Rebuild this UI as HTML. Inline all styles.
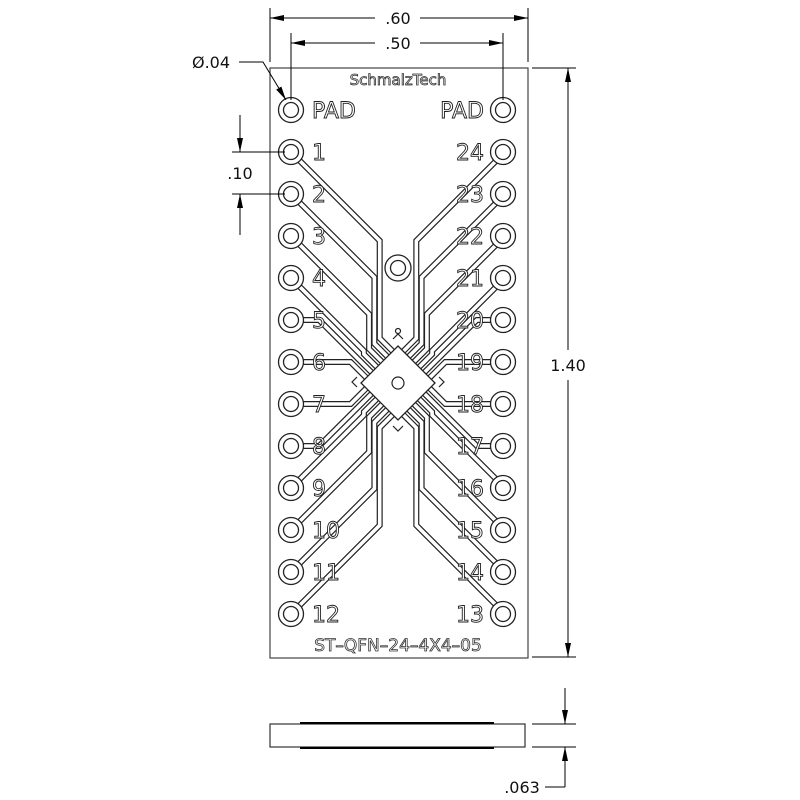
<!DOCTYPE html>
<html><head><meta charset="utf-8"><style>
html,body{margin:0;padding:0;background:#fff;width:800px;height:800px;overflow:hidden}
svg{display:block}
text{font-family:"DejaVu Sans","Liberation Sans",sans-serif}
</style></head><body>
<svg id="s" width="800" height="800" viewBox="0 0 800 800" xmlns="http://www.w3.org/2000/svg">
<defs>
<marker id="b" viewBox="0 0 14 8" refX="14" refY="4" markerWidth="14" markerHeight="8" markerUnits="userSpaceOnUse" orient="auto-start-reverse"><path d="M0,1 L14,4 L0,7 z" fill="#000"/></marker>
</defs>
<rect x="270" y="68" width="258" height="590" fill="#fff" stroke="#444" stroke-width="1.2"/>
<g id="tr" fill="none" stroke-linejoin="miter"></g>
<g id="pads"></g>
<g id="lbl" font-size="22" fill="#fff" stroke="#222" stroke-width="0.9"></g>
<path d="M398,346 L435,383 L398,420 L361,383 Z" fill="#fff" stroke="#222" stroke-width="1.3"/>
<circle cx="398" cy="383" r="6" fill="#fff" stroke="#222" stroke-width="1.2"/>
<circle cx="398" cy="268" r="13" fill="#fff" stroke="#222" stroke-width="1.3"/>
<circle cx="398" cy="268" r="7.5" fill="#fff" stroke="#222" stroke-width="1.3"/>
<g fill="none" stroke="#222" stroke-width="1.2">
<circle cx="398" cy="331" r="2.5"/><path d="M393,339 L398,334 L403,339"/>
<path d="M357,377 L352,382 L357,387"/><path d="M439,377 L444,382 L439,387"/>
<path d="M393,426 L398,431 L403,426"/>
</g>
<text x="398" y="85" font-size="15" text-anchor="middle" fill="#fff" stroke="#333" stroke-width="0.8">SchmalzTech</text>
<text x="398" y="651" font-size="17" text-anchor="middle" fill="#fff" stroke="#333" stroke-width="0.8">ST–QFN–24–4X4–05</text>
<g stroke="#000" stroke-width="1" fill="none">
<line x1="270" y1="8" x2="270" y2="62"/><line x1="528" y1="8" x2="528" y2="62"/>
<line x1="270" y1="18" x2="375" y2="18" marker-start="url(#b)"/><line x1="420" y1="18" x2="528" y2="18" marker-end="url(#b)"/>
<line x1="291" y1="33" x2="291" y2="100"/><line x1="503" y1="33" x2="503" y2="100"/>
<line x1="291" y1="43" x2="375" y2="43" marker-start="url(#b)"/><line x1="420" y1="43" x2="503" y2="43" marker-end="url(#b)"/>
<line x1="532" y1="68" x2="576" y2="68"/><line x1="532" y1="657" x2="576" y2="657"/>
<line x1="568" y1="68" x2="568" y2="350" marker-start="url(#b)"/><line x1="568" y1="380" x2="568" y2="657" marker-end="url(#b)"/>
<line x1="232" y1="152" x2="285" y2="152"/><line x1="232" y1="194" x2="285" y2="194"/>
<line x1="240" y1="115" x2="240" y2="152" marker-end="url(#b)"/><line x1="240" y1="235" x2="240" y2="194" marker-end="url(#b)"/>
<polyline points="239,62 263,62 286,100" marker-end="url(#b)"/>
<line x1="532" y1="724" x2="576" y2="724"/><line x1="532" y1="747" x2="576" y2="747"/>
<line x1="565" y1="688" x2="565" y2="724" marker-end="url(#b)"/><line x1="565" y1="787" x2="565" y2="747" marker-end="url(#b)"/>
<line x1="545" y1="787" x2="565" y2="787"/>
</g>
<g font-size="16" fill="#111">
<text x="398" y="24" text-anchor="middle">.60</text>
<text x="398" y="49" text-anchor="middle">.50</text>
<text x="568" y="371" text-anchor="middle">1.40</text>
<text x="240" y="179" text-anchor="middle">.10</text>
<text x="211" y="68" text-anchor="middle">Ø.04</text>
<text x="522" y="793" text-anchor="middle">.063</text>
</g>
<rect x="270" y="724" width="255" height="23" fill="#fff" stroke="#333" stroke-width="1.2"/>
<line x1="300" y1="723" x2="494" y2="723" stroke="#000" stroke-width="2"/>
<line x1="300" y1="748" x2="494" y2="748" stroke="#000" stroke-width="2"/>
</svg>
<script>
const NS="http://www.w3.org/2000/svg";
const tr=document.getElementById('tr'),pads=document.getElementById('pads'),lbl=document.getElementById('lbl');
function el(p,tag,at){const e=document.createElementNS(NS,tag);for(const k in at)e.setAttribute(k,at[k]);p.appendChild(e);return e;}
let routes=[];
for(let k=1;k<=6;k++){
  const y=152+(k-1)*42;const t=(7-k)/7;
  const E=[361+37*t,383-37*t];const L=[E[0]-13,E[1]-13];
  let pts=[[291,y]];
  if(L[1]-y>=L[0]-291){pts.push([L[0],y+(L[0]-291)]);}
  else{pts.push([L[0]-(L[1]-y),y]);}
  pts.push(L);pts.push(E);
  routes.push(pts);
}
const all=[];
routes.forEach(p=>{
  all.push(p);
  all.push(p.map(q=>[796-q[0],q[1]]));
  all.push(p.map(q=>[q[0],766-q[1]]));
  all.push(p.map(q=>[796-q[0],766-q[1]]));
});
all.forEach(p=>{const d='M'+p.map(q=>q[0].toFixed(1)+','+q[1].toFixed(1)).join(' L');
  el(tr,'path',{d:d,stroke:'#222','stroke-width':6});});
all.forEach(p=>{const d='M'+p.map(q=>q[0].toFixed(1)+','+q[1].toFixed(1)).join(' L');
  el(tr,'path',{d:d,stroke:'#fff','stroke-width':3.6});});
for(let i=0;i<13;i++){const y=110+i*42;
  [291,503].forEach(x=>{el(pads,'circle',{cx:x,cy:y,r:12.5,fill:'#fff',stroke:'#222','stroke-width':1.3});
  el(pads,'circle',{cx:x,cy:y,r:7.5,fill:'#fff',stroke:'#222','stroke-width':1.3});});
  const L=i==0?'PAD':String(i), R=i==0?'PAD':String(25-i);
  el(lbl,'text',{x:312,y:y+8}).textContent=L;
  el(lbl,'text',{x:484,y:y+8,'text-anchor':'end'}).textContent=R;
}
</script>
</body></html>
